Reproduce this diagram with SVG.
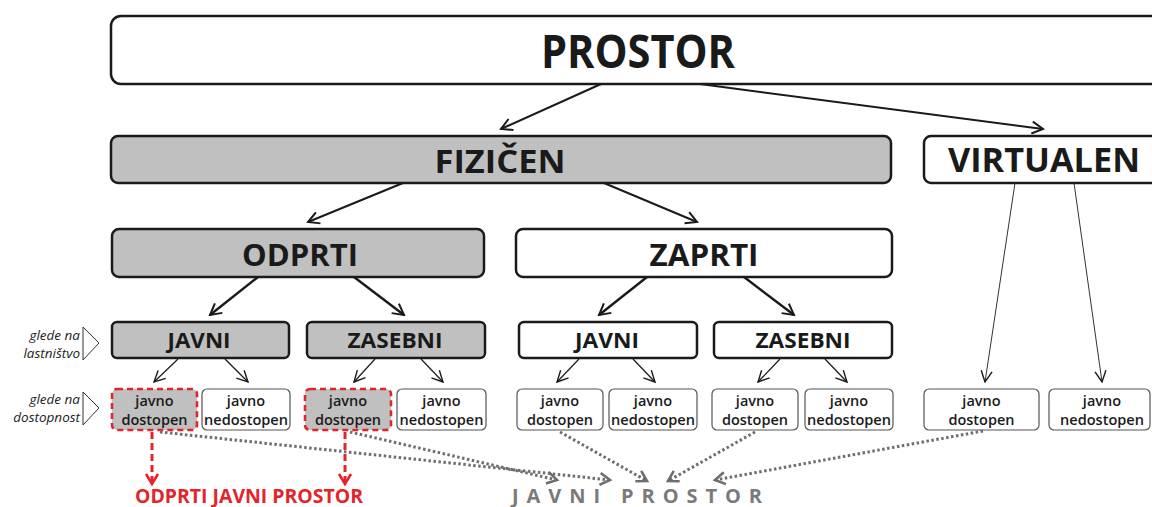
<svg xmlns="http://www.w3.org/2000/svg" width="1152" height="507" viewBox="0 0 1152 507">
<style>
.box{stroke:#1a1a1a;stroke-width:2.5;fill:#fff}
.gray{fill:#c0c0c0}
.small{stroke:#555;stroke-width:1.2;fill:#fff}
.redbox{fill:#c0c0c0;stroke:#e3242b;stroke-width:2.6;stroke-dasharray:6 4}
.t{font-family:"Open Sans","DejaVu Sans",sans-serif;font-weight:700;fill:#1a1a1a;text-anchor:middle}
.s{font-family:"Open Sans","DejaVu Sans",sans-serif;font-weight:600;font-size:14.5px;fill:#1a1a1a;text-anchor:middle}
.lbl{font-family:"Open Sans","DejaVu Sans",sans-serif;font-style:italic;font-size:13.5px;fill:#222;text-anchor:end}
.c1{stroke:#1a1a1a;stroke-width:2;fill:none;marker-end:url(#ahb)}
.c2{stroke:#1a1a1a;stroke-width:1.2;fill:none;marker-end:url(#ahs)}
.c3{stroke:#333;stroke-width:1;fill:none;marker-end:url(#ahs)}
.dot{stroke:#6e6e6e;stroke-width:3;stroke-dasharray:2.5 2.5;fill:none;marker-end:url(#ahg)}
.red{stroke:#e3242b;stroke-width:3;stroke-dasharray:7 4;fill:none;marker-end:url(#ahr)}
</style>
<defs>
<marker id="ahb" markerUnits="userSpaceOnUse" markerWidth="16" markerHeight="16" viewBox="0 0 16 16" refX="14" refY="8" orient="auto"><path d="M3,2 L14,8 L3,14" fill="none" stroke="#1a1a1a" stroke-width="2"/></marker>
<marker id="ahs" markerUnits="userSpaceOnUse" markerWidth="14" markerHeight="14" viewBox="0 0 14 14" refX="13" refY="7" orient="auto"><path d="M2,1.5 L13,7 L2,12.5" fill="none" stroke="#1a1a1a" stroke-width="1.4"/></marker>
<marker id="ahg" markerUnits="userSpaceOnUse" markerWidth="16" markerHeight="16" viewBox="0 0 16 16" refX="13" refY="8" orient="auto"><path d="M3,2 L13,8 L3,14" fill="none" stroke="#6e6e6e" stroke-width="2.6"/></marker>
<marker id="ahr" markerUnits="userSpaceOnUse" markerWidth="16" markerHeight="16" viewBox="0 0 16 16" refX="13" refY="8" orient="auto"><path d="M3,2 L13,8 L3,14" fill="none" stroke="#e3242b" stroke-width="2.6"/></marker>
</defs>

<g id="n-prostor"><rect class="box" x="111" y="16" width="1060" height="68" rx="10"/><text class="t" x="638" y="68" font-size="46" textLength="194" lengthAdjust="spacingAndGlyphs">PROSTOR</text></g>
<g id="n-fizicen"><rect class="box gray" x="111" y="136" width="780" height="47" rx="7"/><text class="t" x="500" y="173" font-size="33" textLength="131" lengthAdjust="spacingAndGlyphs">FIZIČEN</text></g>
<g id="n-virtualen"><rect class="box" x="924" y="136" width="240" height="47" rx="7"/><text class="t" x="1044" y="172" font-size="34" textLength="192" lengthAdjust="spacingAndGlyphs">VIRTUALEN</text></g>
<g id="n-odprti"><rect class="box gray" x="112" y="229" width="372" height="48" rx="7"/><text class="t" x="300" y="266" font-size="30" textLength="116" lengthAdjust="spacingAndGlyphs">ODPRTI</text></g>
<g id="n-zaprti"><rect class="box" x="516" y="229" width="376" height="48" rx="7"/><text class="t" x="704" y="266" font-size="30" textLength="109" lengthAdjust="spacingAndGlyphs">ZAPRTI</text></g>

<g id="n-javni1"><rect class="box gray" x="112" y="322" width="177" height="36" rx="5"/><text class="t" x="199" y="348" font-size="21" textLength="63" lengthAdjust="spacingAndGlyphs">JAVNI</text></g>
<g id="n-zasebni1"><rect class="box gray" x="307" y="322" width="178" height="36" rx="5"/><text class="t" x="395" y="348" font-size="21" textLength="95" lengthAdjust="spacingAndGlyphs">ZASEBNI</text></g>
<g id="n-javni2"><rect class="box" x="519" y="322" width="178" height="36" rx="5"/><text class="t" x="607" y="348" font-size="21" textLength="64" lengthAdjust="spacingAndGlyphs">JAVNI</text></g>
<g id="n-zasebni2"><rect class="box" x="714" y="322" width="178" height="36" rx="5"/><text class="t" x="803" y="348" font-size="21" textLength="95" lengthAdjust="spacingAndGlyphs">ZASEBNI</text></g>

<g id="n-a"><rect class="redbox" x="112" y="389" width="85" height="41" rx="5"/><text class="s" x="154.5" y="405.5">javno</text><text class="s" x="154.5" y="425">dostopen</text></g>
<g id="n-b"><rect class="small" x="202" y="389" width="88" height="41" rx="5"/><text class="s" x="246" y="405.5">javno</text><text class="s" x="246" y="425" textLength="84" lengthAdjust="spacingAndGlyphs">nedostopen</text></g>
<g id="n-c"><rect class="redbox" x="305" y="389" width="86" height="41" rx="5"/><text class="s" x="348" y="405.5">javno</text><text class="s" x="348" y="425">dostopen</text></g>
<g id="n-d"><rect class="small" x="397" y="389" width="89" height="41" rx="5"/><text class="s" x="441.5" y="405.5">javno</text><text class="s" x="441.5" y="425" textLength="84" lengthAdjust="spacingAndGlyphs">nedostopen</text></g>
<g id="n-e"><rect class="small" x="517" y="389" width="86" height="41" rx="5"/><text class="s" x="560" y="405.5">javno</text><text class="s" x="560" y="425">dostopen</text></g>
<g id="n-f"><rect class="small" x="609" y="389" width="88" height="41" rx="5"/><text class="s" x="653" y="405.5">javno</text><text class="s" x="653" y="425" textLength="84" lengthAdjust="spacingAndGlyphs">nedostopen</text></g>
<g id="n-g"><rect class="small" x="712" y="389" width="86" height="41" rx="5"/><text class="s" x="755" y="405.5">javno</text><text class="s" x="755" y="425">dostopen</text></g>
<g id="n-h"><rect class="small" x="805" y="389" width="88" height="41" rx="5"/><text class="s" x="849" y="405.5">javno</text><text class="s" x="849" y="425" textLength="84" lengthAdjust="spacingAndGlyphs">nedostopen</text></g>
<g id="n-i"><rect class="small" x="924" y="389" width="115" height="41" rx="5"/><text class="s" x="981.5" y="405.5">javno</text><text class="s" x="981.5" y="425">dostopen</text></g>
<g id="n-j"><rect class="small" x="1049" y="389" width="101" height="41" rx="5"/><text class="s" x="1102" y="405.5">javno</text><text class="s" x="1102" y="425" textLength="84" lengthAdjust="spacingAndGlyphs">nedostopen</text></g>

<g id="labels">
<text class="lbl" x="80" y="340">glede na</text><text class="lbl" x="80" y="358">lastništvo</text>
<polygon points="83,327 99,343 83,360" fill="#fff" stroke="#333" stroke-width="1"/>
<text class="lbl" x="80" y="404">glede na</text><text class="lbl" x="80" y="422">dostopnost</text>
<polygon points="83,392 99,408 83,425" fill="#fff" stroke="#333" stroke-width="1"/>
</g>

<g id="connectors">
<line class="c1" x1="601" y1="84" x2="501" y2="129"/>
<line class="c1" x1="700" y1="84" x2="1043" y2="129"/>
<line class="c1" x1="403" y1="183" x2="308" y2="222"/>
<line class="c1" x1="604" y1="183" x2="697" y2="222"/>
<line class="c1" x1="258" y1="277" x2="210" y2="315" style="stroke-width:2.4"/>
<line class="c1" x1="354" y1="277" x2="404" y2="315" style="stroke-width:2.4"/>
<line class="c1" x1="647" y1="277" x2="599" y2="315" style="stroke-width:2.4"/>
<line class="c1" x1="744" y1="277" x2="794" y2="315" style="stroke-width:2.4"/>
<line class="c2" x1="178" y1="359" x2="154" y2="382"/>
<line class="c2" x1="225" y1="359" x2="248" y2="382"/>
<line class="c2" x1="375" y1="359" x2="354" y2="382"/>
<line class="c2" x1="421" y1="359" x2="443" y2="382"/>
<line class="c2" x1="579" y1="359" x2="557" y2="382"/>
<line class="c2" x1="633" y1="359" x2="655" y2="382"/>
<line class="c2" x1="780" y1="359" x2="758" y2="382"/>
<line class="c2" x1="825" y1="359" x2="847" y2="382"/>
<line class="c3" x1="1015" y1="183" x2="985" y2="382"/>
<line class="c3" x1="1074" y1="183" x2="1102" y2="382"/>
<line class="dot" x1="160" y1="432" x2="610" y2="480"/>
<line class="dot" x1="350" y1="432" x2="557" y2="480"/>
<line class="dot" x1="560" y1="432" x2="647" y2="481"/>
<line class="dot" x1="755" y1="432" x2="668" y2="481"/>
<line class="dot" x1="983" y1="431" x2="715" y2="480"/>
<line class="red" x1="152" y1="432" x2="152" y2="484"/>
<line class="red" x1="345" y1="432" x2="345" y2="484"/>
</g>

<text x="249" y="503" font-family="'Open Sans','DejaVu Sans',sans-serif" font-weight="700" font-size="19" fill="#e3242b" text-anchor="middle" textLength="228" lengthAdjust="spacingAndGlyphs">ODPRTI JAVNI PROSTOR</text>
<text x="512" y="503" font-family="'Open Sans','DejaVu Sans',sans-serif" font-weight="700" font-size="20" fill="#7a7a7a" textLength="250" lengthAdjust="spacing">JAVNI  PROSTOR</text>
</svg>
